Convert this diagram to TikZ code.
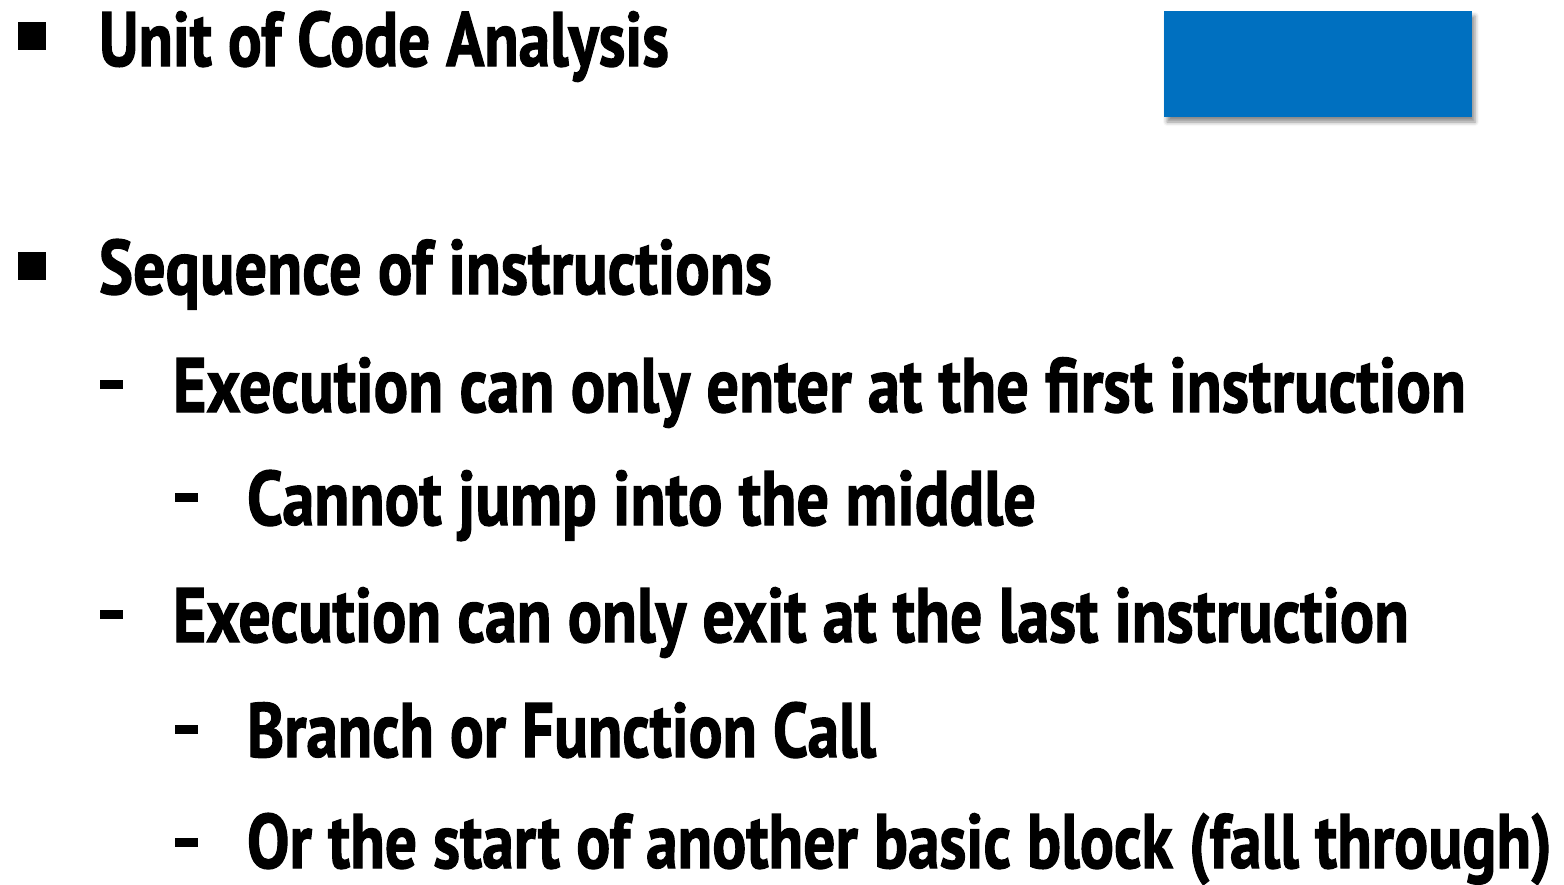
\documentclass[tikz,border=0pt]{standalone}
\usepackage{fontspec}
\setmainfont{PT Sans}[BoldFeatures={FakeBold=1.6}]
\usetikzlibrary{shadows.blur}
\definecolor{blockblue}{HTML}{0070C0}
\newsavebox\fitbox
\newcommand\fitline[2]{\sbox\fitbox{#2}\pgfmathsetmacro\fitsx{#1/\the\wd\fitbox}\scalebox{\fitsx}[1]{\usebox\fitbox}}
\tikzset{
  txt/.style={anchor=base west, inner sep=0pt, outer sep=0pt, font=\bfseries\fontsize{77}{80}\selectfont},
  sqbullet/.style={fill=black, draw=none, inner sep=0pt, minimum size=28pt},
  dashbullet/.style={fill=black, draw=none, inner sep=0pt, minimum width=23pt, minimum height=9pt},
  blockbox/.style={fill=blockblue, draw=none, inner sep=0pt, minimum width=308pt, minimum height=106pt,
    blur shadow={shadow xshift=3pt, shadow yshift=-5pt, shadow blur radius=4pt, shadow opacity=45}}
}
\begin{document}
\begin{tikzpicture}[x=1pt,y=-1pt]
\useasboundingbox (0,0) rectangle (1564,884);
\node[blockbox] (blk) at (1318,64) {};
% level 1 bullets
\node[sqbullet] (b1) at (32,36) {};
\node[sqbullet] (b2) at (32,266) {};
% level 2 dashes
\node[dashbullet] (d1) at (111.5,384.5) {};
\node[dashbullet] (d3) at (111.5,614.5) {};
% level 3 dashes
\node[dashbullet] (d2) at (186.5,497.5) {};
\node[dashbullet] (d4) at (186.5,729.5) {};
\node[dashbullet] (d5) at (186.5,842.5) {};
% texts
\node[txt] (t1) at (99,66) {\fitline{570}{Unit of Code Analysis}};
\node[txt] (t2) at (99,294) {\fitline{673}{Sequence of instructions}};
\node[txt] (t3) at (173,412) {\fitline{1293}{Execution can only enter at the first instruction}};
\node[txt] (t4) at (247,525) {\fitline{789}{Cannot jump into the middle}};
\node[txt] (t5) at (173,642) {\fitline{1236}{Execution can only exit at the last instruction}};
\node[txt] (t6) at (247,757) {\fitline{629}{Branch or Function Call}};
\node[txt] (t7) at (247,868) {\fitline{1305}{Or the start of another basic block (fall through)}};
\end{tikzpicture}
\end{document}
